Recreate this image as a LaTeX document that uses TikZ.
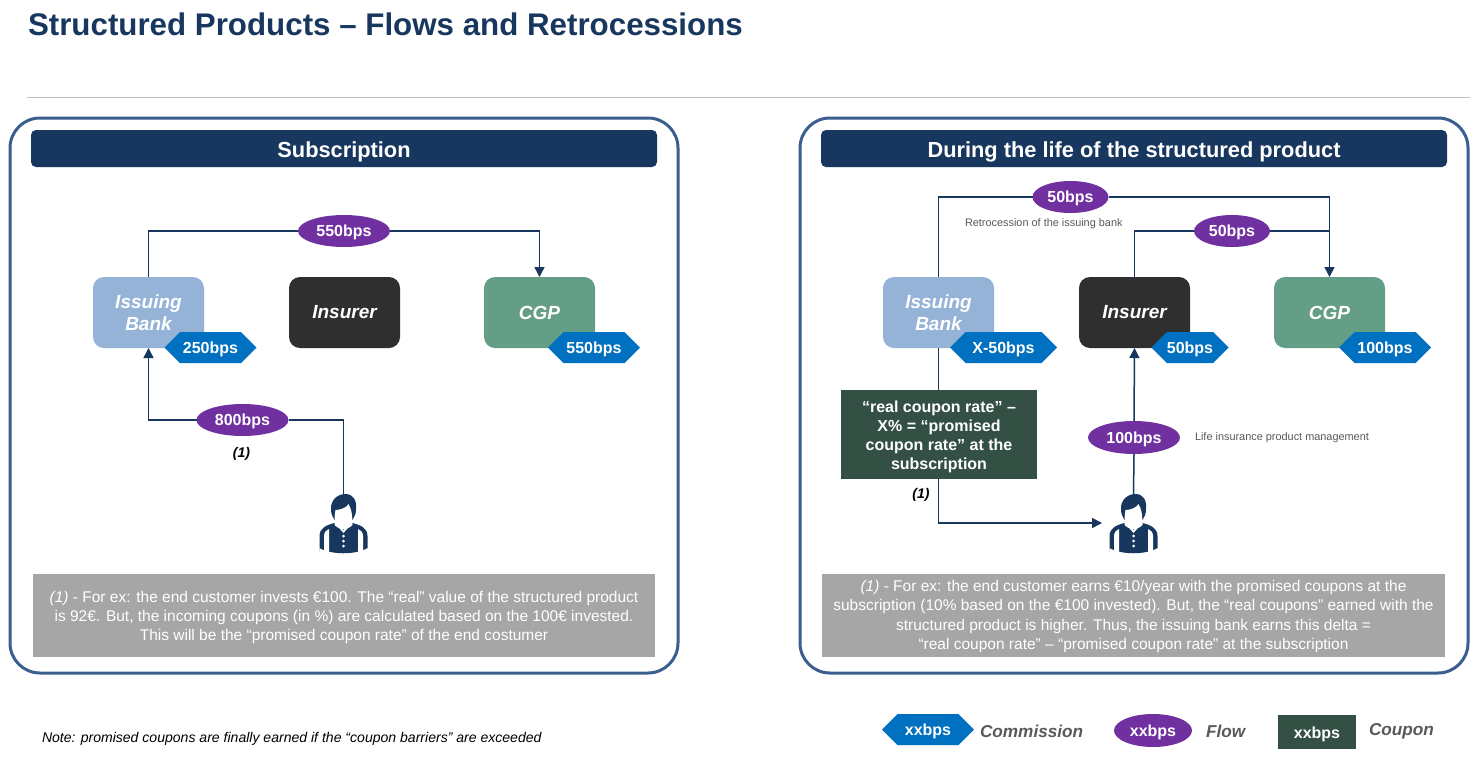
\documentclass[tikz,border=0pt]{standalone}
\usepackage{fontspec}
\setmainfont{Liberation Sans}
\usetikzlibrary{arrows.meta}
\usetikzlibrary{shapes.geometric}
\usetikzlibrary{shapes.symbols}
\definecolor{deckink}{HTML}{17375E}
\definecolor{deckframe}{HTML}{3A5F8F}
\definecolor{deckbank}{HTML}{95B3D7}
\definecolor{deckinsurer}{HTML}{2F2F2F}
\definecolor{deckcgp}{HTML}{659E87}
\definecolor{deckflow}{HTML}{7030A0}
\definecolor{deckfee}{HTML}{0070C0}
\definecolor{deckcoupon}{HTML}{344F44}
\definecolor{deckgrey}{HTML}{A6A6A6}
\definecolor{deckmuted}{HTML}{595959}
\newcommand{\pxfont}[2]{\fontsize{#1}{#2}\selectfont}
\newcommand{\toprule}[1]{\rule{0pt}{#1pt}}
\tikzset{
  person/.pic={
    \fill[deckink] (-24,58) -- (-24,42) .. controls (-24,34) and (-17,31) .. (-9,29)
      -- (9,29) .. controls (17,31) and (24,34) .. (24,42) -- (24,54)
      .. controls (12,61) and (-12,61) .. (-24,54) -- cycle;
    \fill[white] (-19.5,57) -- (-19.5,42) .. controls (-19.5,38) and (-17,36) .. (-14.5,35)
      -- (-14.5,59) -- cycle;
    \fill[white] (19.5,57) -- (19.5,42) .. controls (19.5,38) and (17,36) .. (14.5,35)
      -- (14.5,59) -- cycle;
    \fill[deckink] (-12.5,15) .. controls (-13,6) and (-6,0) .. (2,0)
      .. controls (10,0) and (13.5,7) .. (12.5,15) .. controls (12.5,20) and (11,23) .. (9,26)
      -- (-9,26) .. controls (-11,23) and (-12.5,20) .. (-12.5,15) -- cycle;
    \fill[white] (-9,31) .. controls (-9,25) and (-9,21) .. (-8,16)
      .. controls (-4,16) and (3,14) .. (5,10)
      .. controls (6,13) and (8,15) .. (8,18) .. controls (9,24) and (9,28) .. (9,31)
      .. controls (6,34) and (3,35) .. (0,35) .. controls (-3,35) and (-6,34) .. (-9,31) -- cycle;
    \fill[white] (-7,31) -- (0,39) -- (7,31) -- (3,33) -- (0,36) -- (-3,33) -- cycle;
    \foreach \doty in {42,47,52} \fill[white] (0,\doty) circle (1.5);
  }
}
\begin{document}
\begin{tikzpicture}[
  x=1pt,
  y=-1pt,
  every node/.style={inner sep=0pt, outer sep=0pt},
  panel/.style={draw=deckframe, line width=3pt, rounded corners=30pt, fill=white},
  header/.style={fill=deckink, rounded corners=5pt, text=white, minimum height=37pt,
                 font=\pxfont{21.8}{26}\bfseries, execute at begin node={\toprule{22}}},
  actor/.style={rounded corners=11pt, text=white, minimum width=111pt, minimum height=71pt,
                align=center, font=\pxfont{19}{22}\bfseries\itshape},
  flow/.style={ellipse, fill=deckflow, text=white, minimum width=92pt, minimum height=32pt,
               font=\pxfont{16}{19}\bfseries, execute at begin node={\toprule{15}}},
  fee/.style={signal, signal to=east and west, signal pointer angle=90, fill=deckfee,
              text=white, minimum width=92pt, minimum height=31pt,
              font=\pxfont{16}{19}\bfseries, execute at begin node={\toprule{16}}},
  coupon/.style={fill=deckcoupon, text=white, align=center, font=\pxfont{16}{19}\bfseries},
  footnote/.style={fill=deckgrey, text=white, align=center, font=\pxfont{15.5}{19.4}},
  remark/.style={text=deckmuted, anchor=west, font=\pxfont{10.9}{12}},
  mark1/.style={font=\pxfont{14}{16}\bfseries\itshape},
  legend/.style={text=deckmuted, anchor=west, font=\pxfont{17.2}{19}\bfseries\itshape},
  link/.style={deckink, line width=1.5pt},
  arrow/.style={deckink, line width=1.5pt, -{Triangle[length=10pt, width=10pt]}}
]
  % ---- page ----
  \path[use as bounding box] (0,0) rectangle (1480,756);
  \node[anchor=west, text=deckink, font=\pxfont{31.3}{34}\bfseries] (title) at (28,24)
    {Structured Products -- Flows and Retrocessions};
  \coordinate (ruleA) at (27,97);
  \coordinate (ruleB) at (1470,97);
  \draw[black!25, line width=1pt] (ruleA) -- (ruleB);

  % ---- panels ----
  \draw[panel] (10,118) rectangle (678,673);
  \draw[panel] (800,118) rectangle (1468,673);
  \node[header, minimum width=626pt] (headA) at (344,148.5) {Subscription};
  \node[header, minimum width=626pt] (headB) at (1134,148.5) {During the life of the structured product};

  % ---- subscription ----
  \node[actor, fill=deckbank] (bankA) at (148.5,312.5) {Issuing\\Bank};
  \node[actor, fill=deckinsurer] (insurerA) at (344.5,312.5) {Insurer};
  \node[actor, fill=deckcgp] (cgpA) at (539.5,312.5) {CGP};
  \node[flow] (flowTopA) at (344,231) {550bps};
  \node[flow] (flowInA) at (242.5,420) {800bps};
  \coordinate (personA) at (343.5,494);
  \pic at (personA) {person};
  \draw[link] (bankA.north) |- (flowTopA.west);
  \draw[arrow] (flowTopA.east) -| (cgpA.north);
  \draw[arrow] (flowInA.west) -| (bankA.south);
  \draw[link] (flowInA.east) -| (personA);
  \node[fee] (feeBankA) at (210.5,347.5) {250bps};
  \node[fee] (feeCgpA) at (594,347.5) {550bps};
  \node[mark1] (markA) at (241.5,454) {(1)};
  \node[footnote, minimum width=622pt, minimum height=83pt] (noteA) at (344,615.5)
    {\toprule{15.3}\textit{(1)} - For ex: the end customer invests €100. The “real” value of the structured product\\
     is 92€. But, the incoming coupons (in \%) are calculated based on the 100€ invested.\\
     This will be the “promised coupon rate” of the end costumer};

  % ---- life of the product ----
  \node[actor, fill=deckbank] (bankB) at (938.5,312.5) {Issuing\\Bank};
  \node[actor, fill=deckinsurer] (insurerB) at (1134.5,312.5) {Insurer};
  \node[actor, fill=deckcgp] (cgpB) at (1329.5,312.5) {CGP};
  \node[flow, minimum width=76pt] (flowTopB) at (1070.5,197) {50bps};
  \node[flow, minimum width=76pt] (flowMidB) at (1232,231) {50bps};
  \node[flow, minimum height=33pt] (flowLifeB) at (1134,437.5) {100bps};
  \coordinate (personB) at (1133.5,494);
  \coordinate (arrowB) at (1102,523);
  \coordinate (mergeB) at (1330,231);
  \pic at (personB) {person};
  \node[coupon, minimum width=196pt, minimum height=89pt] (couponB) at (939,434.5)
    {\toprule{15.5}“real coupon rate” --\\X\% = “promised\\coupon rate” at the\\subscription};
  \draw[link] (bankB.north) |- (flowTopB.west);
  \draw[arrow] (flowTopB.east) -| (cgpB.north);
  \draw[link] (insurerB.north) |- (flowMidB.west);
  \draw[link] (flowMidB.east) -- (mergeB);
  \draw[link] (bankB.south) -- (couponB.north -| bankB.south);
  \draw[arrow] (couponB.south -| bankB.south) |- (arrowB);
  \draw[arrow] (flowLifeB.north) -- (insurerB.south);
  \draw[link] (personB) -- (flowLifeB.south);
  \node[fee, minimum width=107pt] (feeBankB) at (1003.5,347.5) {X-50bps};
  \node[fee, minimum width=76pt] (feeInsurerB) at (1190,347.5) {50bps};
  \node[fee] (feeCgpB) at (1385,347.5) {100bps};
  \node[remark] (remarkBank) at (965,223.5) {Retrocession of the issuing bank};
  \node[remark] (remarkLife) at (1195,437.5) {Life insurance product management};
  \node[mark1] (markB) at (921,495) {(1)};
  \node[footnote, minimum width=623pt, minimum height=83pt] (noteB) at (1133.5,615.5)
    {\toprule{13.3}\textit{(1)} - For ex: the end customer earns €10/year with the promised coupons at the\\
     subscription (10\% based on the €100 invested). But, the “real coupons” earned with the\\
     structured product is higher. Thus, the issuing bank earns this delta =\\
     “real coupon rate” -- “promised coupon rate” at the subscription};

  % ---- bottom line ----
  \node[anchor=west, font=\pxfont{14.05}{16}\itshape] (note) at (42,739)
    {Note: promised coupons are finally earned if the “coupon barriers” are exceeded};
  \node[fee] (keyFee) at (928,729.5) {xxbps};
  \node[legend] (keyFeeText) at (980,731.5) {Commission};
  \node[flow, minimum width=78pt, minimum height=33pt] (keyFlow) at (1153,730.5) {xxbps};
  \node[legend] (keyFlowText) at (1206,731.5) {Flow};
  \node[coupon, minimum width=78pt, minimum height=34pt] (keyCoupon) at (1317,732) {\toprule{15.5}xxbps};
  \node[legend] (keyCouponText) at (1369,731.5) {Coupon};
\end{tikzpicture}
\end{document}
